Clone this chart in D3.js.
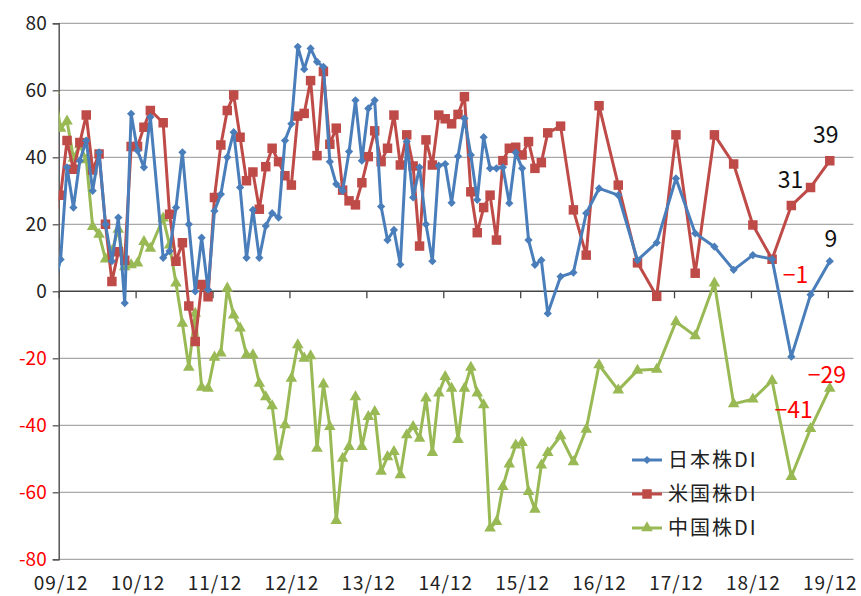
<!DOCTYPE html>
<html>
<head>
<meta charset="utf-8">
<script src="https://cdn.jsdelivr.net/npm/d3@7"></script>
<style>
  body { margin: 0; background: #fff; }
  svg { display: block; }
  text { font-family: "Noto Sans CJK JP", "Noto Sans", sans-serif; }
</style>
</head>
<body>
<div id="chart"></div>
<script>
// survey months (2011/03 was skipped, later the survey became bi-monthly / quarterly)
const dates = [
  "2009/11", "2009/12",
  "2010/01", "2010/02", "2010/03", "2010/04", "2010/05", "2010/06", "2010/07", "2010/08", "2010/09", "2010/10", "2010/11", "2010/12",
  "2011/01", "2011/02", "2011/04", "2011/05", "2011/06", "2011/07", "2011/08", "2011/09", "2011/10", "2011/11", "2011/12",
  "2012/01", "2012/02", "2012/03", "2012/04", "2012/05", "2012/06", "2012/07", "2012/08", "2012/09", "2012/10", "2012/11", "2012/12",
  "2013/01", "2013/02", "2013/03", "2013/04", "2013/05", "2013/06", "2013/07", "2013/08", "2013/09", "2013/10", "2013/11", "2013/12",
  "2014/01", "2014/02", "2014/03", "2014/04", "2014/05", "2014/06", "2014/07", "2014/08", "2014/09", "2014/10", "2014/11", "2014/12",
  "2015/01", "2015/02", "2015/03", "2015/04", "2015/05", "2015/06", "2015/07", "2015/08", "2015/09", "2015/10", "2015/11", "2015/12",
  "2016/01", "2016/02", "2016/03", "2016/04", "2016/06", "2016/08", "2016/10", "2016/12",
  "2017/03", "2017/06", "2017/09", "2017/12",
  "2018/03", "2018/06", "2018/09", "2018/12",
  "2019/03", "2019/06", "2019/09", "2019/12"
];

const japanDI = [
  2, 9.5,
  37, 25, 39, 45, 30, 41.5, 20, 9, 22, -3.5, 53, 42,
  37, 52, 10, 12, 25, 41.5, 20, 0, 16, 0.5, 24,
  29, 40, 47.5, 31, 10, 24.3, 10, 19.5, 23.3, 22, 45, 50,
  73, 66.3, 72.5, 68.5, 67, 38.7, 32, 30, 41.7, 57, 39, 54.6,
  57, 25.3, 15.3, 18.3, 8, 44.7, 28, 37, 20, 9, 37.5, 38,
  26.4, 40.3, 51.6, 40.7, 27.3, 46, 36.7, 36.7, 37, 26.3, 41.4, 36.7,
  15.3, 7.9, 9.3, -6.6, 4.4, 5.6, 23.3, 30.7,
  28.7, 9.3, 14.5, 33.7,
  17.3, 13.3, 6.4, 10.8,
  9.6, -19.5, -1, 9
];

const usDI = [
  26, 28.7,
  45, 36.4, 44.4, 52.6, 36.2, 41, 20, 2.9, 11.8, 9.3, 43.2, 43.2,
  49, 54, 50.3, 23, 9, 14.5, -4.4, -15, 2, -1.6, 28,
  43.7, 54, 58.6, 46, 33, 35.6, 24.5, 37.2, 42.7, 38.7, 34.5, 31.7,
  52.3, 53.1, 62.9, 40.5, 65.6, 43.9, 48.7, 30.2, 27, 25.8, 32.4, 40.2,
  47.9, 38.7, 42.7, 52.6, 37.7, 46.7, 37.4, 13.5, 45.2, 37.7, 52.6, 51.5,
  50, 52.8, 58.1, 29.7, 17.5, 25, 28.7, 15.3, 39, 42.7, 43, 40.7,
  44.7, 36.7, 38.4, 47.3, 49.3, 24.3, 10.8, 55.4,
  31.7, 8.5, -1.5, 46.7,
  5.4, 46.7, 38, 19.8,
  9.6, 25.6, 31, 39
];

const chinaDI = [
  60, 48.6,
  50.8, 39.7, 43.7, 39.2, 19.3, 17, 9.6, 12, 18.5, 7.3, 7.9, 8.4,
  14.8, 12.8, 21.8, 13.8, 2.4, -9.6, -22.7, -6.6, -28.7, -29, -19.7,
  -18.5, 0.9, -7.1, -11, -19, -19, -27.5, -31.5, -34.2, -49.4, -39.9, -26,
  -16, -20, -19.3, -46.9, -27.7, -40.4, -68.5, -49.9, -46.4, -31.5, -46.4, -37.4,
  -35.9, -53.8, -49.4, -47.9, -54.8, -42.9, -40.4, -43.9, -31.9, -48.2, -30.4, -25.5,
  -29, -44.3, -29, -22.7, -30.4, -33.9, -70.7, -68.8, -58.3, -51.6, -45.9, -45.2,
  -59.8, -65.1, -51.9, -48.2, -43.2, -50.9, -41.2, -22,
  -29.5, -23.6, -23.3, -9.1,
  -13.3, 2.4, -33.6, -32.2,
  -26.7, -55.3, -41, -29
];

const seriesNames = ["日本株DI", "米国株DI", "中国株DI"];
const yTicks = [80, 60, 40, 20, 0, -20, -40, -60, -80];
const yearLabels = ["09/12", "10/12", "11/12", "12/12", "13/12", "14/12", "15/12", "16/12", "17/12", "18/12", "19/12"];
// points that carry a value label
const labelledDates = ["2019/09", "2019/12"];

const W = 861, H = 596;
const plotLeft = 58.7, plotRight = 853.5, plotTop = 23.3, plotBottom = 559.3;

// month offset from 2009/12
function monthIndex(s) {
  const p = s.split("/").map(Number);
  const yr = p[0] < 100 ? 2000 + p[0] : p[0];
  return (yr - 2009) * 12 + (p[1] - 12);
}

const x = d3.scaleLinear().domain([-0.3, 123.7]).range([plotLeft, plotRight]);
const y = d3.scaleLinear().domain([-80, 80]).range([plotBottom, plotTop]);

const svg = d3.select("#chart").append("svg")
  .attr("width", W)
  .attr("height", H);

// gridlines
svg.append("g")
  .selectAll("line")
  .data(yTicks.filter(v => v !== 0))
  .enter().append("line")
  .attr("x1", plotLeft).attr("x2", plotRight)
  .attr("y1", d => y(d)).attr("y2", d => y(d))
  .attr("stroke", "#a9a9a9")
  .attr("stroke-width", 1.2);

// y axis
const yAxis = svg.append("g")
  .attr("transform", `translate(${plotLeft},0)`)
  .call(d3.axisLeft(y).tickValues(yTicks).tickSize(6).tickPadding(6).tickFormat(d3.format("d")));
yAxis.select(".domain").attr("stroke", "#555").attr("stroke-width", 1.5);
yAxis.selectAll(".tick line").attr("stroke", "#555").attr("stroke-width", 1.3);
yAxis.selectAll(".tick text")
  .text(d => d < 0 ? "-" + Math.abs(d) : d)
  .attr("font-size", 19)
  .attr("font-family", "'Noto Sans CJK JP', sans-serif")
  .attr("fill", d => d < 0 ? "#ff0000" : "#222");

// zero line with yearly ticks
const yearTicks = yearLabels.map(s => monthIndex(s) - 0.3);
const xAxis = svg.append("g")
  .attr("transform", `translate(0,${y(0)})`)
  .call(d3.axisBottom(x).tickValues(yearTicks).tickSize(7).tickFormat(""));
xAxis.select(".domain").attr("stroke", "#444").attr("stroke-width", 1.6).attr("d", `M${plotLeft},0H${plotRight}`);
xAxis.selectAll(".tick line").attr("stroke", "#444").attr("stroke-width", 1.3);

// year labels along the bottom
svg.append("g")
  .selectAll("text")
  .data(yearLabels)
  .enter().append("text")
  .attr("x", d => x(monthIndex(d)) + 0.5)
  .attr("y", 590)
  .attr("text-anchor", "middle")
  .attr("font-size", 19)
  .attr("letter-spacing", 1)
  .attr("fill", "#222")
  .text(d => d);

// series
const colors = ["#4a7ebb", "#be4b48", "#98b954"];
const symbols = [
  { type: d3.symbolSquare, size: 34, rotate: 45 },
  { type: d3.symbolSquare, size: 90, rotate: 0 },
  { type: d3.symbolTriangle, size: 58, rotate: 0 }
];
const seriesData = [japanDI, usDI, chinaDI].map((vals, k) => ({
  name: seriesNames[k],
  color: colors[k],
  symbol: symbols[k],
  points: dates.map((d, i) => ({ date: d, m: monthIndex(d), v: vals[i] }))
}));

svg.append("clipPath").attr("id", "plot-clip")
  .append("rect")
  .attr("x", plotLeft).attr("y", 0)
  .attr("width", plotRight - plotLeft).attr("height", H);

const line = d3.line().x(d => x(d.m)).y(d => y(d.v));

const plot = svg.append("g").attr("clip-path", "url(#plot-clip)");

// draw china first so japan / us sit on top, as in the original
[2, 1, 0].forEach(k => {
  const s = seriesData[k];
  const g = plot.append("g");
  g.append("path")
    .datum(s.points)
    .attr("fill", "none")
    .attr("stroke", s.color)
    .attr("stroke-width", 3)
    .attr("stroke-linejoin", "round")
    .attr("d", line);
  g.selectAll("path.mark")
    .data(s.points)
    .enter().append("path")
    .attr("class", "mark")
    .attr("d", d3.symbol().type(s.symbol.type).size(s.symbol.size))
    .attr("transform", d => `translate(${x(d.m)},${y(d.v)}) rotate(${s.symbol.rotate})`)
    .attr("fill", s.color);
});

// value labels on the last two points
const labelOffsets = {
  "日本株DI": { "2019/09": [-15, -20], "2019/12": [1, -22] },
  "米国株DI": { "2019/09": [-20, -8], "2019/12": [-4, -26] },
  "中国株DI": { "2019/09": [-17, -19], "2019/12": [-3, -14] }
};
const fmt = d3.format("d");
seriesData.forEach(s => {
  svg.append("g")
    .selectAll("text")
    .data(s.points.filter(p => labelledDates.includes(p.date)))
    .enter().append("text")
    .attr("x", d => x(d.m) + labelOffsets[s.name][d.date][0])
    .attr("y", d => y(d.v) + labelOffsets[s.name][d.date][1])
    .attr("dy", "0.36em")
    .attr("text-anchor", "middle")
    .attr("font-size", 23)
    .attr("fill", d => Math.round(d.v) < 0 ? "#ff0000" : "#111")
    .text(d => fmt(Math.round(d.v)));
});

// legend
const legend = svg.append("g").attr("transform", "translate(632,460)");
seriesData.forEach((s, k) => {
  const row = legend.append("g").attr("transform", `translate(0,${k * 34})`);
  row.append("line")
    .attr("x1", 0).attr("x2", 30)
    .attr("stroke", s.color).attr("stroke-width", 3);
  row.append("path")
    .attr("d", d3.symbol().type(s.symbol.type).size(s.symbol.size))
    .attr("transform", `translate(15,0) rotate(${s.symbol.rotate})`)
    .attr("fill", s.color);
  row.append("text")
    .attr("x", 36)
    .attr("dy", "0.36em")
    .attr("font-size", 20)
    .attr("letter-spacing", 2)
    .attr("fill", "#222")
    .text(s.name);
});
</script>
</body>
</html>
